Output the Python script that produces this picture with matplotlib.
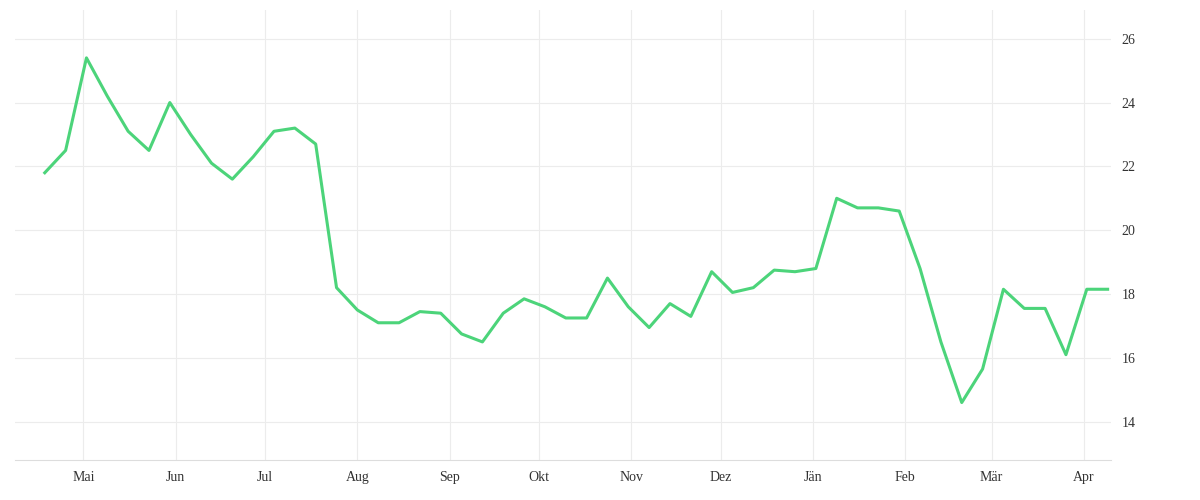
import matplotlib
matplotlib.use("Agg")
import matplotlib.pyplot as plt
import matplotlib.dates as mdates
import pandas as pd
import numpy as np

start = "2023-04-18"
values = [21.8,22.5,25.4,24.2,23.1,22.5,24.0,23.0,22.1,21.6,22.3,23.1,23.2,22.7,
          18.2,17.5,17.1,17.1,17.45,17.4,16.75,16.5,17.4,17.85,17.6,17.25,17.25,
          18.5,17.6,16.95,17.7,17.3,18.7,18.05,18.2,18.75,18.7,18.8,21.0,20.7,20.7,
          20.6,18.8,16.5,14.6,15.65,18.15,17.55,17.55,16.1,18.15,18.15]
dates = pd.date_range(start, periods=len(values), freq="7D")
month_names = ["Jän","Feb","Mär","Apr","Mai","Jun","Jul","Aug","Sep","Okt","Nov","Dez"]

fig = plt.figure(figsize=(12,5), dpi=100)
ax = fig.add_axes([0.0125, 0.08, 0.913, 0.9])
ax.plot(dates, values, color="#4cd47a", lw=2.2)
ax.set_xlim(dates[0]-pd.Timedelta(days=10), dates[-1]+pd.Timedelta(days=1))
ax.set_ylim(12.8, 26.9)
ax.yaxis.tick_right()
ax.set_yticks([14,16,18,20,22,24,26])
ax.xaxis.set_major_locator(mdates.MonthLocator())
ax.xaxis.set_major_formatter(plt.FuncFormatter(lambda x, p: month_names[mdates.num2date(x).month-1]))
ax.grid(True, color="#ececec", lw=0.8)
for s in ["top","left","right"]:
    ax.spines[s].set_visible(False)
ax.spines["bottom"].set_color("#dddddd")
ax.tick_params(length=0, labelsize=10, colors="#333333", pad=8)
for lab in ax.get_xticklabels()+ax.get_yticklabels():
    lab.set_family("Liberation Serif")
fig.savefig("out.png")
